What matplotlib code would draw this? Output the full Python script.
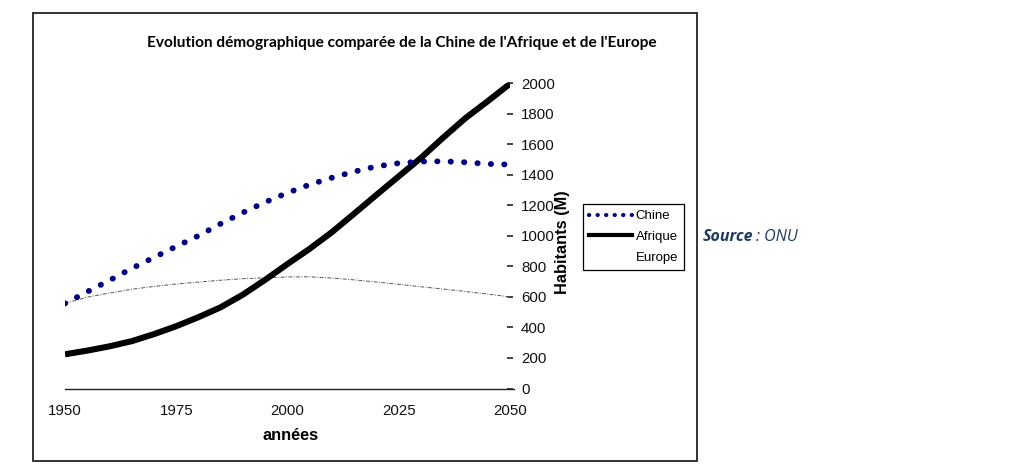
import matplotlib
matplotlib.use("Agg")
import matplotlib.pyplot as plt
from matplotlib.lines import Line2D
from matplotlib.patches import Rectangle

# Population (millions)
years = [1950, 1955, 1960, 1965, 1970, 1975, 1980, 1985, 1990, 1995, 2000,
         2005, 2010, 2015, 2020, 2025, 2030, 2035, 2040, 2045, 2050]
chine = [557, 633, 708, 786, 858, 930, 1000, 1079, 1152, 1220, 1281,
         1335, 1380, 1420, 1454, 1475, 1486, 1487, 1481, 1470, 1466]
afrique = [224, 248, 276, 310, 356, 408, 467, 532, 615, 712, 815,
           915, 1024, 1145, 1268, 1389, 1510, 1643, 1770, 1881, 1995]
europe = [557, 598, 625, 650, 668, 684, 697, 709, 719, 725, 730,
          731, 723, 711, 697, 682, 666, 651, 635, 618, 600]

x_ticks = [1950, 1975, 2000, 2025, 2050]
y_ticks = list(range(0, 2001, 200))

W, H = 1024, 474
fig = plt.figure(figsize=(W / 100, H / 100), dpi=100)

# axes box in pixels: x 65..510, y 83..388.5
ax = fig.add_axes([65 / W, (H - 388.5) / H, 445 / W, 305.5 / H])

ax.plot(years, europe, color="#555555", lw=0.7,
        linestyle=(0, (4, 1.5, 1, 1.5)))
ax.plot(years, afrique, color="black", lw=4.4, solid_capstyle="butt",
        solid_joinstyle="round")
ax.plot(years, chine, color="#000080", lw=4.2,
        linestyle=(0, (0.05, 2.25)), dash_capstyle="round")

ax.set_xlim(1950, 2050)
ax.set_ylim(0, 2000)
ax.set_xticks(x_ticks)
ax.set_yticks(y_ticks)
ax.yaxis.tick_right()
for s in ["left", "top", "right"]:
    ax.spines[s].set_visible(False)
ax.spines["bottom"].set_color("#222222")
ax.spines["bottom"].set_linewidth(1.0)
ax.spines["bottom"].set_bounds(1950, 2051)

ax.tick_params(axis="x", length=0, pad=11, labelsize=10.8)
ax.set_xticks([1950, 2025], minor=True)
ax.tick_params(axis="x", which="minor", direction="in", length=4,
               width=1, color="#222222")
ax.tick_params(axis="y", direction="inout", length=4, width=1.2,
               pad=6, labelsize=10.8, color="#222222")
for lab in ax.get_xticklabels() + ax.get_yticklabels():
    lab.set_family("Liberation Sans")
    lab.set_color("#111111")

fig.text(291 / W, 1 - 435 / H, "années", ha="center", va="center",
         fontsize=11.8, fontweight="bold", family="Liberation Sans")
fig.text(563 / W, 1 - 242 / H, "Habitants (M)", ha="center", va="center",
         rotation=90, fontsize=11.8, fontweight="bold", family="Liberation Sans")
fig.text(147 / W, 1 - 42.5 / H,
         "Evolution démographique comparée de la Chine de l'Afrique et de l'Europe",
         ha="left", va="center", fontsize=11.1, fontweight="bold", family="Lato")

handles = [
    Line2D([], [], color="#000080", lw=3.0, linestyle=(0, (0.05, 2.0)),
           dash_capstyle="round", label="Chine"),
    Line2D([], [], color="black", lw=3.0, label="Afrique"),
    Line2D([], [], color="#555555", lw=0, label="Europe"),
]
leg = fig.legend(handles=handles, loc="upper left",
                 bbox_to_anchor=(583 / W, 1 - 204 / H), fancybox=False,
                 frameon=True, edgecolor="black", framealpha=1,
                 handlelength=3.3, handletextpad=0.25, borderpad=0.45,
                 labelspacing=0.65, borderaxespad=0,
                 prop={"family": "Liberation Sans", "size": 9.5})
leg.get_frame().set_linewidth(0.9)

# outer frame of the chart
fig.add_artist(Rectangle((33 / W, 1 - 461 / H), (697 - 33) / W, (461 - 13) / H,
                         transform=fig.transFigure, fill=False,
                         edgecolor="#333333", lw=1.4))

src = fig.text(703 / W, 1 - 237 / H, "Source", ha="left", va="center",
               fontsize=11.5, fontweight="bold", style="italic",
               family="Open Sans", color="#1F3A5F")
fig.add_artist(plt.Annotation(": ONU", xy=(1, 0.5), xycoords=src,
                              xytext=(2, 0), textcoords="offset points",
                              ha="left", va="center", fontsize=11.5,
                              style="italic", family="Open Sans",
                              color="#1F3A5F"))

fig.savefig("out.png", dpi=100)
